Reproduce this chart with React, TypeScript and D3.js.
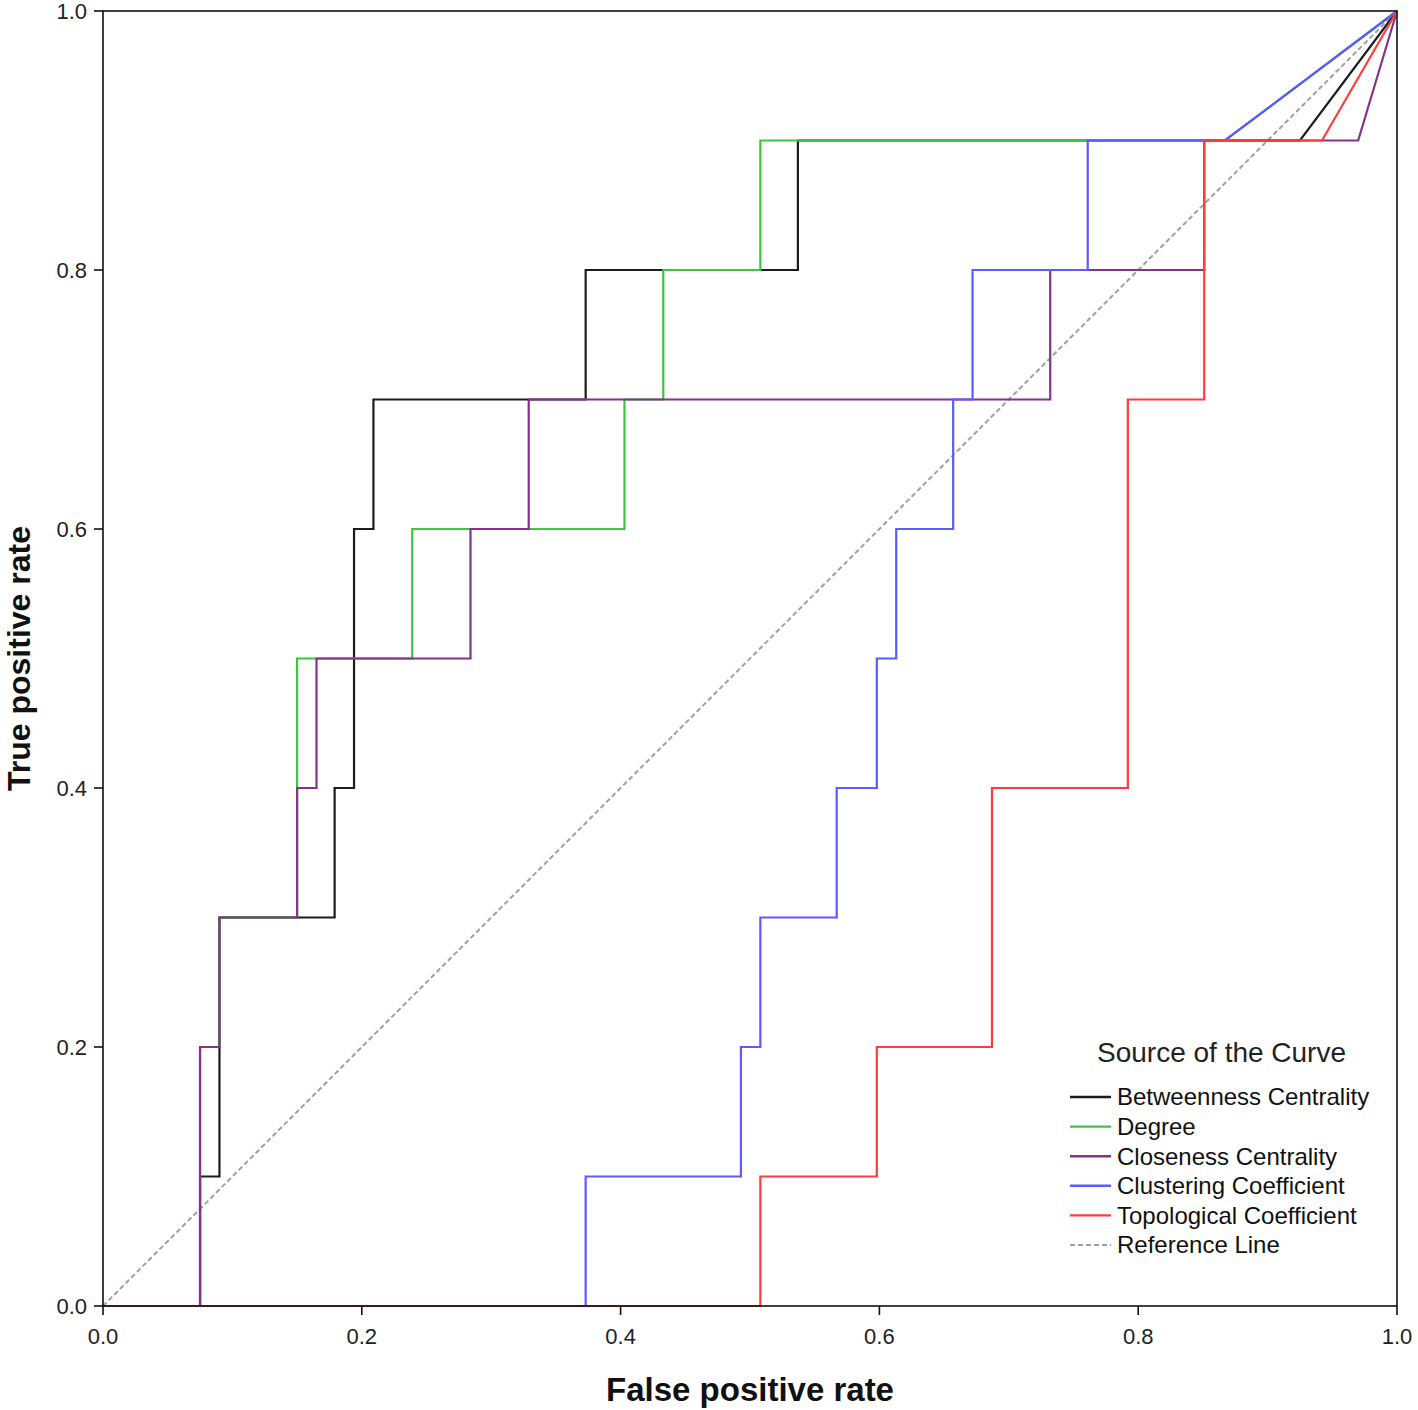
import React from "react";
import { scaleLinear, line } from "d3";

// ROC points (false positive rate, true positive rate)
const betweennessFpr = [0, 0.075, 0.075, 0.09, 0.09, 0.179, 0.179, 0.194, 0.194, 0.209, 0.209, 0.373, 0.373, 0.537, 0.537, 0.925, 1];
const betweennessTpr = [0, 0, 0.1, 0.1, 0.3, 0.3, 0.4, 0.4, 0.6, 0.6, 0.7, 0.7, 0.8, 0.8, 0.9, 0.9, 1];

const degreeFpr = [0, 0.075, 0.075, 0.09, 0.09, 0.15, 0.15, 0.239, 0.239, 0.403, 0.403, 0.433, 0.433, 0.508, 0.508, 0.867, 1];
const degreeTpr = [0, 0, 0.2, 0.2, 0.3, 0.3, 0.5, 0.5, 0.6, 0.6, 0.7, 0.7, 0.8, 0.8, 0.9, 0.9, 1];

const closenessFpr = [0, 0.075, 0.075, 0.09, 0.09, 0.15, 0.15, 0.165, 0.165, 0.284, 0.284, 0.329, 0.329, 0.732, 0.732, 0.851, 0.851, 0.97, 1];
const closenessTpr = [0, 0, 0.2, 0.2, 0.3, 0.3, 0.4, 0.4, 0.5, 0.5, 0.6, 0.6, 0.7, 0.7, 0.8, 0.8, 0.9, 0.9, 1];

const clusteringFpr = [0, 0.373, 0.373, 0.493, 0.493, 0.508, 0.508, 0.567, 0.567, 0.598, 0.598, 0.613, 0.613, 0.657, 0.657, 0.672, 0.672, 0.761, 0.761, 0.867, 1];
const clusteringTpr = [0, 0, 0.1, 0.1, 0.2, 0.2, 0.3, 0.3, 0.4, 0.4, 0.5, 0.5, 0.6, 0.6, 0.7, 0.7, 0.8, 0.8, 0.9, 0.9, 1];

const topologicalFpr = [0, 0.508, 0.508, 0.598, 0.598, 0.687, 0.687, 0.792, 0.792, 0.851, 0.851, 0.942, 1];
const topologicalTpr = [0, 0, 0.1, 0.1, 0.2, 0.2, 0.4, 0.4, 0.7, 0.7, 0.9, 0.9, 1];

const seriesNames = [
  "Betweenness Centrality",
  "Degree",
  "Closeness Centrality",
  "Clustering Coefficient",
  "Topological Coefficient",
];
const seriesColors = ["#1c1c1c", "#3ec43e", "#86318a", "#5b5bff", "#ff3c3c"];
const seriesFpr = [betweennessFpr, degreeFpr, closenessFpr, clusteringFpr, topologicalFpr];
const seriesTpr = [betweennessTpr, degreeTpr, closenessTpr, clusteringTpr, topologicalTpr];

const tickValues = [0, 0.2, 0.4, 0.6, 0.8, 1.0];

const svgWidth = 1418;
const svgHeight = 1410;
const margin = { top: 11, right: 21, bottom: 104, left: 103 };

const font = "Arial, 'Liberation Sans', sans-serif";

const App = () => {
  const innerWidth = svgWidth - margin.left - margin.right;
  const innerHeight = svgHeight - margin.top - margin.bottom;

  const xScale = scaleLinear().domain([0, 1]).range([0, innerWidth]);
  const yScale = scaleLinear().domain([0, 1]).range([innerHeight, 0]);

  const lineGen = line<[number, number]>()
    .x((d) => xScale(d[0]))
    .y((d) => yScale(d[1]));

  const legendX = 1070 - margin.left;
  const legendY = 1097 - margin.top;
  const legendStep = 29.6;

  return (
    <svg
      width={svgWidth}
      height={svgHeight}
      style={{ position: "absolute", left: 0, top: 0, background: "#fff" }}
    >
      <g transform={`translate(${margin.left},${margin.top})`}>
        {/* reference line */}
        <path
          d={lineGen([
            [0, 0],
            [1, 1],
          ]) as string}
          fill="none"
          stroke="#a0a0a0"
          strokeWidth={2}
          strokeDasharray="5 3"
        />

        {seriesNames.map((name, i) => {
          const pts = seriesFpr[i].map((x, j) => [x, seriesTpr[i][j]] as [number, number]);
          return (
            <path
              key={name}
              d={lineGen(pts) as string}
              fill="none"
              stroke={seriesColors[i]}
              strokeWidth={2.2}
            />
          );
        })}

        {/* frame */}
        <rect
          x={0}
          y={0}
          width={innerWidth}
          height={innerHeight}
          fill="none"
          stroke="#111"
          strokeWidth={1.6}
        />

        {/* y axis */}
        {tickValues.map((t) => (
          <g key={"y" + t} transform={`translate(0,${yScale(t)})`}>
            <line x1={-9} x2={0} stroke="#111" strokeWidth={1.6} />
            <text
              x={-16}
              dy="0.35em"
              textAnchor="end"
              fontFamily={font}
              fontSize={22}
              fill="#222"
            >
              {t.toFixed(1)}
            </text>
          </g>
        ))}

        {/* x axis */}
        {tickValues.map((t) => (
          <g key={"x" + t} transform={`translate(${xScale(t)},${innerHeight})`}>
            <line y1={0} y2={9} stroke="#111" strokeWidth={1.6} />
            <text
              y={38}
              textAnchor="middle"
              fontFamily={font}
              fontSize={22}
              fill="#222"
            >
              {t.toFixed(1)}
            </text>
          </g>
        ))}

        <text
          x={innerWidth / 2}
          y={innerHeight + 95}
          textAnchor="middle"
          fontFamily={font}
          fontWeight="bold"
          fontSize={33}
          fill="#111"
        >
          False positive rate
        </text>
        <text
          transform={`translate(${-73},${innerHeight / 2}) rotate(-90)`}
          textAnchor="middle"
          fontFamily={font}
          fontWeight="bold"
          fontSize={32}
          fill="#111"
        >
          True positive rate
        </text>

        {/* legend */}
        <g transform={`translate(${legendX},${legendY})`}>
          <text
            x={27}
            y={-35}
            fontFamily={font}
            fontSize={28}
            fill="#222"
          >
            Source of the Curve
          </text>
          {seriesNames.map((name, i) => (
            <g key={name} transform={`translate(0,${i * legendStep})`}>
              <line x1={0} x2={41} stroke={seriesColors[i]} strokeWidth={2.4} />
              <text x={47} dy="0.35em" fontFamily={font} fontSize={24} fill="#111">
                {name}
              </text>
            </g>
          ))}
          <g transform={`translate(0,${5 * legendStep})`}>
            <line
              x1={0}
              x2={41}
              stroke="#a0a0a0"
              strokeWidth={2}
              strokeDasharray="5 3"
            />
            <text x={47} dy="0.35em" fontFamily={font} fontSize={24} fill="#111">
              Reference Line
            </text>
          </g>
        </g>
      </g>
    </svg>
  );
};

export default App;
